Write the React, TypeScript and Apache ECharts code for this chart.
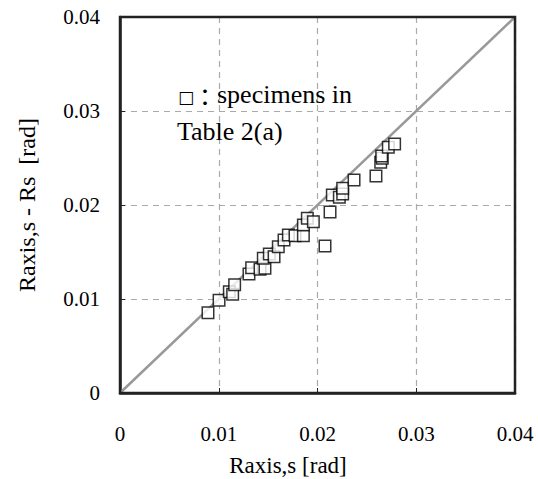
import React, { useEffect, useRef } from "react";
import * as echarts from "echarts";

const xTicks = [0, 0.01, 0.02, 0.03, 0.04];
const specimenX = [
  0.00891, 0.01003, 0.01107, 0.01141, 0.01161, 0.01306, 0.01333, 0.01418, 0.01468, 0.01451,
  0.01512, 0.0156, 0.01603, 0.01661, 0.01705, 0.01772, 0.01857, 0.01857, 0.01897, 0.01958,
  0.02076, 0.02127, 0.0215, 0.02221, 0.02255, 0.02255, 0.0237, 0.02592, 0.0264, 0.02656,
  0.0265, 0.02717, 0.02781,
];
const specimenY = [
  0.00854, 0.00986, 0.01078, 0.0105, 0.01152, 0.01266, 0.01333, 0.01316, 0.01326, 0.01433,
  0.01479, 0.0145, 0.01556, 0.01628, 0.01681, 0.01674, 0.01674, 0.01787, 0.01858, 0.01822,
  0.01564, 0.01926, 0.02106, 0.02082, 0.02117, 0.02178, 0.02266, 0.02309, 0.02454, 0.02497,
  0.0252, 0.02614, 0.02649,
];
const refLineX = [0, 0.04];
const refLineY = [0, 0.04];

const SERIF = "Liberation Serif";

export default function App() {
  const ref = useRef<HTMLDivElement>(null);
  useEffect(() => {
    if (!ref.current) return;
    const chart = echarts.init(ref.current, null, { renderer: "svg" });
    const fmt = (v: number) => (v === 0 ? "0" : v.toFixed(2));
    const axisCommon = {
      type: "value",
      min: xTicks[0],
      max: xTicks[xTicks.length - 1],
      interval: 0.01,
      axisLine: { show: true, onZero: false, lineStyle: { color: "#222", width: 2.5 } },
      axisTick: { show: true, inside: true, length: 5, lineStyle: { color: "#222", width: 1 } },
      splitLine: { show: true, lineStyle: { color: "#aaa", type: [6, 5], width: 1.2 } },
      axisLabel: { formatter: fmt, color: "#000", fontFamily: SERIF, fontSize: 21 },
    };
    const txt = (text: string, x: number, y: number, size: number, family: string, extra: any = {}) => ({
      type: "text",
      x,
      y,
      z: 20,
      rotation: extra.rotation || 0,
      style: {
        text,
        fontFamily: family,
        fontSize: size,
        fontWeight: "normal",
        fill: "#000",
        align: extra.align || "left",
        verticalAlign: "middle",
      },
    });
    chart.setOption({
      animation: false,
      backgroundColor: "#fff",
      grid: {
        left: 120,
        right: 23,
        top: 17,
        bottom: 86,
        show: false,
        containLabel: false,
      },
      xAxis: { ...axisCommon, axisLabel: { ...axisCommon.axisLabel, margin: 30 } },
      yAxis: { ...axisCommon, axisLabel: { ...axisCommon.axisLabel, margin: 20 } },
      series: [
        {
          type: "line",
          data: refLineX.map((x, i) => [x, refLineY[i]]),
          symbol: "none",
          lineStyle: { color: "#999", width: 2.5 },
          silent: true,
          z: 2,
        },
        {
          type: "scatter",
          data: specimenX.map((x, i) => [x, specimenY[i]]),
          symbol: "rect",
          symbolSize: 11.5,
          itemStyle: { color: "#fff", borderColor: "#000", borderWidth: 1.5 },
          z: 3,
        },
      ],
      graphic: [
        {
          type: "rect",
          z: 30,
          silent: true,
          shape: { x: 120, y: 17, width: 395, height: 376 },
          style: { fill: "none", stroke: "#222", lineWidth: 2.5 },
        },
        txt("Raxis,s [rad]", 288, 465, 23, SERIF, { align: "center" }),
        txt("Raxis,s - Rs  [rad]", 27, 205, 24, SERIF, { align: "center", rotation: Math.PI / 2 }),
        txt("□", 178, 97, 17, "DejaVu Sans"),
        txt("：", 193, 95, 24, "Noto Sans CJK JP"),
        txt("specimens in", 217, 94, 26, SERIF),
        txt("Table 2(a)", 177, 131, 26, SERIF),
      ],
    });
    return () => chart.dispose();
  }, []);
  return <div ref={ref} style={{ width: 538, height: 479, position: "absolute", left: 0, top: 0 }} />;
}
